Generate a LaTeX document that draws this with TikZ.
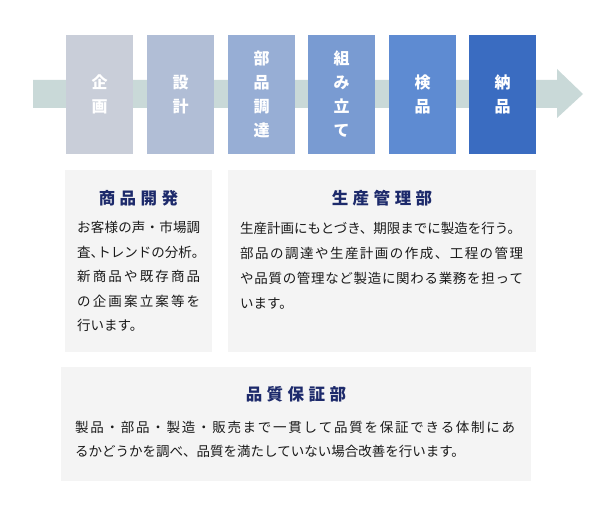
\documentclass[tikz,border=0pt]{standalone}
\usepackage{fontspec}
\newfontfamily\jp{Noto Sans CJK JP}
\definecolor{sA}{HTML}{C9CED9}
\definecolor{sB}{HTML}{B1BED6}
\definecolor{sC}{HTML}{97AED5}
\definecolor{sD}{HTML}{799BD2}
\definecolor{sE}{HTML}{5E8BD2}
\definecolor{sF}{HTML}{3A6CC1}
\definecolor{shaftcol}{HTML}{C9D9D8}
\definecolor{panelcol}{HTML}{F4F4F4}
\definecolor{titlecol}{HTML}{1D2A6B}
\definecolor{bodycol}{HTML}{1A1A1A}
% spread characters of a line over a given width
\newcommand\slineA[2]{\hbox to #1{\slfirst#2\relax}}
\def\slfirst#1{#1\slrest}
\def\slrest#1{\ifx#1\relax\else\hfill#1\expandafter\slrest\fi}
% letter-spaced title
\def\lsfirst#1{#1\lsrest}
\def\lsrest#1{\ifx#1\relax\else\kern4.5pt#1\expandafter\lsrest\fi}
\newcommand\spaced[1]{\lsfirst#1\relax}
\newcommand\hcomma{\hbox to 6.75pt{、\hss}}
\newcommand\hperiod{\hbox to 6.75pt{。\hss}}
\tikzset{
  stepbox/.style={minimum width=67pt, minimum height=119pt, inner sep=0pt,
    align=center, text=white, font=\fontsize{16pt}{24pt}\selectfont\jp\bfseries},
  panel/.style={fill=panelcol, inner sep=0pt},
  titletext/.style={anchor=base, inner sep=0pt, text=titlecol,
    font=\fontsize{16.5pt}{20pt}\selectfont\jp\bfseries},
  bodytext/.style={anchor=base west, inner sep=0pt, text=bodycol,
    font=\fontsize{13.5pt}{24.5pt}\selectfont\jp},
}
\begin{document}
\begin{tikzpicture}[x=1pt,y=-1pt]
\useasboundingbox (0,0) rectangle (600,521);
\fill[white] (0,0) rectangle (600,521);
% flow arrow
\fill[shaftcol] (33,80) -- (557,80) -- (557,69) -- (583,94) -- (557,118) -- (557,108) -- (33,108) -- cycle;
% steps
\node[stepbox, fill=sA] (st1) at (99.5,94.5) {企\\画};
\node[stepbox, fill=sB] (st2) at (180.5,94.5) {設\\計};
\node[stepbox, fill=sC] (st3) at (261.5,94.5) {部\\品\\調\\達};
\node[stepbox, fill=sD] (st4) at (341.5,94.5) {組\\み\\立\\て};
\node[stepbox, fill=sE] (st5) at (422.5,94.5) {検\\品};
\node[stepbox, fill=sF] (st6) at (502.5,94.5) {納\\品};
% panels
\node[panel, minimum width=147pt, minimum height=182pt] (pL) at (138.5,261) {};
\node[panel, minimum width=308pt, minimum height=182pt] (pR) at (382,261) {};
\node[panel, minimum width=470pt, minimum height=114pt] (pB) at (296,424) {};
% titles
\node[titletext] (tL) at (138.5,205) {\spaced{商品開発}};
\node[titletext] (tR) at (382,205) {\spaced{生産管理部}};
\node[titletext] (tB) at (296,400) {\spaced{品質保証部}};
% body texts
\node[bodytext] (bL) at (77,233) {\vtop{%
  \slineA{123pt}{お客様の声・市場調}%
  \hbox{査\hcomma トレンドの分析\hperiod}%
  \slineA{123pt}{新商品や既存商品}%
  \slineA{123pt}{の企画案立案等を}%
  \hbox{行います。}}};
\node[bodytext] (bR) at (240,234) {\vtop{\baselineskip=25pt
  \hbox{生産計画にもとづき、期限までに製造を行う。}%
  \slineA{283pt}{部品の調達や生産計画の作成、工程の管理}%
  \slineA{283pt}{や品質の管理など製造に関わる業務を担って}%
  \hbox{います。}}};
\node[bodytext] (bB) at (75,432) {\vtop{\baselineskip=24pt
  \slineA{440pt}{製品・部品・製造・販売まで一貫して品質を保証できる体制にあ}%
  \hbox{るかどうかを調べ、品質を満たしていない場合改善を行います。}}};
\end{tikzpicture}
\end{document}
